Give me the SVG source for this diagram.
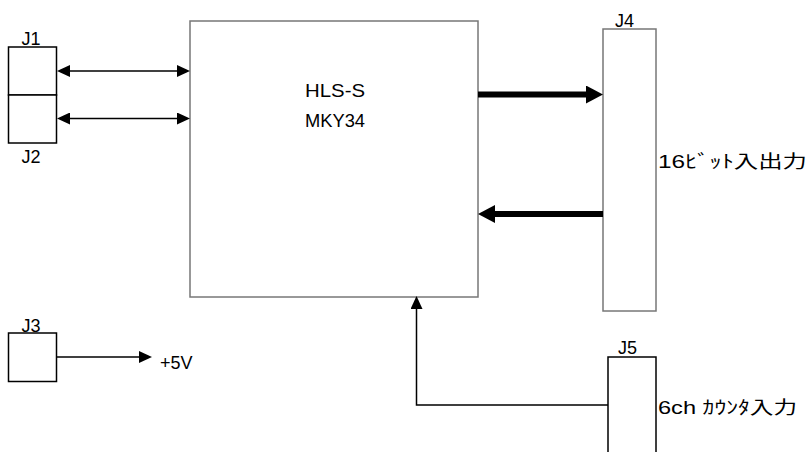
<svg xmlns="http://www.w3.org/2000/svg" width="811" height="452" viewBox="0 0 811 452">
<style>
.box{fill:#fff;stroke:#000;stroke-width:1.5}
.gbox{fill:#fff;stroke:#777;stroke-width:1.5}
.lbl{font-family:"Liberation Sans","Noto Sans CJK JP",sans-serif;font-size:18px;fill:#000}
.thin{stroke:#000;stroke-width:1.5;fill:none}
.thick{stroke:#000;stroke-width:6;fill:none}
</style>
<defs>
<marker id="ah" markerUnits="userSpaceOnUse" markerWidth="13" markerHeight="12" refX="0" refY="6" orient="auto-start-reverse" viewBox="0 0 13 12">
<path d="M0,0 L13,6 L0,12 z" fill="#000"/>
</marker>
<marker id="ahb" markerUnits="userSpaceOnUse" markerWidth="17" markerHeight="18" refX="0" refY="9" orient="auto" viewBox="0 0 17 18">
<path d="M0,0 L17,9 L0,18 z" fill="#000"/>
</marker>
</defs>
<rect width="811" height="452" fill="#fff"/>
<g id="main">
<rect class="gbox" x="190" y="21" width="288" height="276"/>
<text class="lbl" x="305" y="97" font-size="22" textLength="60" lengthAdjust="spacingAndGlyphs">HLS-S</text>
<text class="lbl" x="305" y="127" font-size="22" textLength="60" lengthAdjust="spacingAndGlyphs">MKY34</text>
</g>
<g id="J1">
<rect class="box" x="8.5" y="47" width="48" height="48"/>
<text class="lbl" x="21.5" y="45" font-size="19">J1</text>
</g>
<g id="J2">
<rect class="box" x="8.5" y="95" width="48" height="48"/>
<text class="lbl" x="21.5" y="163" font-size="19">J2</text>
</g>
<g id="J3">
<rect class="box" x="8.5" y="333" width="48" height="48.5"/>
<text class="lbl" x="21.5" y="332" font-size="19">J3</text>
<text class="lbl" x="160" y="369">+5V</text>
</g>
<g id="J4">
<rect class="gbox" x="603" y="29" width="53" height="282"/>
<text class="lbl" x="615" y="27" font-size="19">J4</text>
<text class="lbl" x="658" y="168" font-size="20" textLength="149" lengthAdjust="spacingAndGlyphs">16ﾋﾞｯﾄ入出力</text>
</g>
<g id="J5">
<rect class="box" x="608" y="357" width="48" height="110"/>
<text class="lbl" x="618" y="354" font-size="19">J5</text>
<text class="lbl" x="658" y="414" font-size="20" textLength="139" lengthAdjust="spacingAndGlyphs">6ch ｶｳﾝﾀ入力</text>
</g>
<g id="connectors">
<line class="thin" x1="70" y1="71" x2="177" y2="71" marker-start="url(#ah)" marker-end="url(#ah)"/>
<line class="thin" x1="70" y1="118.5" x2="177" y2="118.5" marker-start="url(#ah)" marker-end="url(#ah)"/>
<line class="thin" x1="57" y1="357" x2="139" y2="357" marker-end="url(#ah)"/>
<line class="thick" x1="478" y1="94.5" x2="586" y2="94.5" marker-end="url(#ahb)"/>
<line class="thick" x1="603" y1="214" x2="495" y2="214" marker-end="url(#ahb)"/>
<polyline class="thin" points="608,405 416.5,405 416.5,309" marker-end="url(#ah)"/>
</g>
</svg>
